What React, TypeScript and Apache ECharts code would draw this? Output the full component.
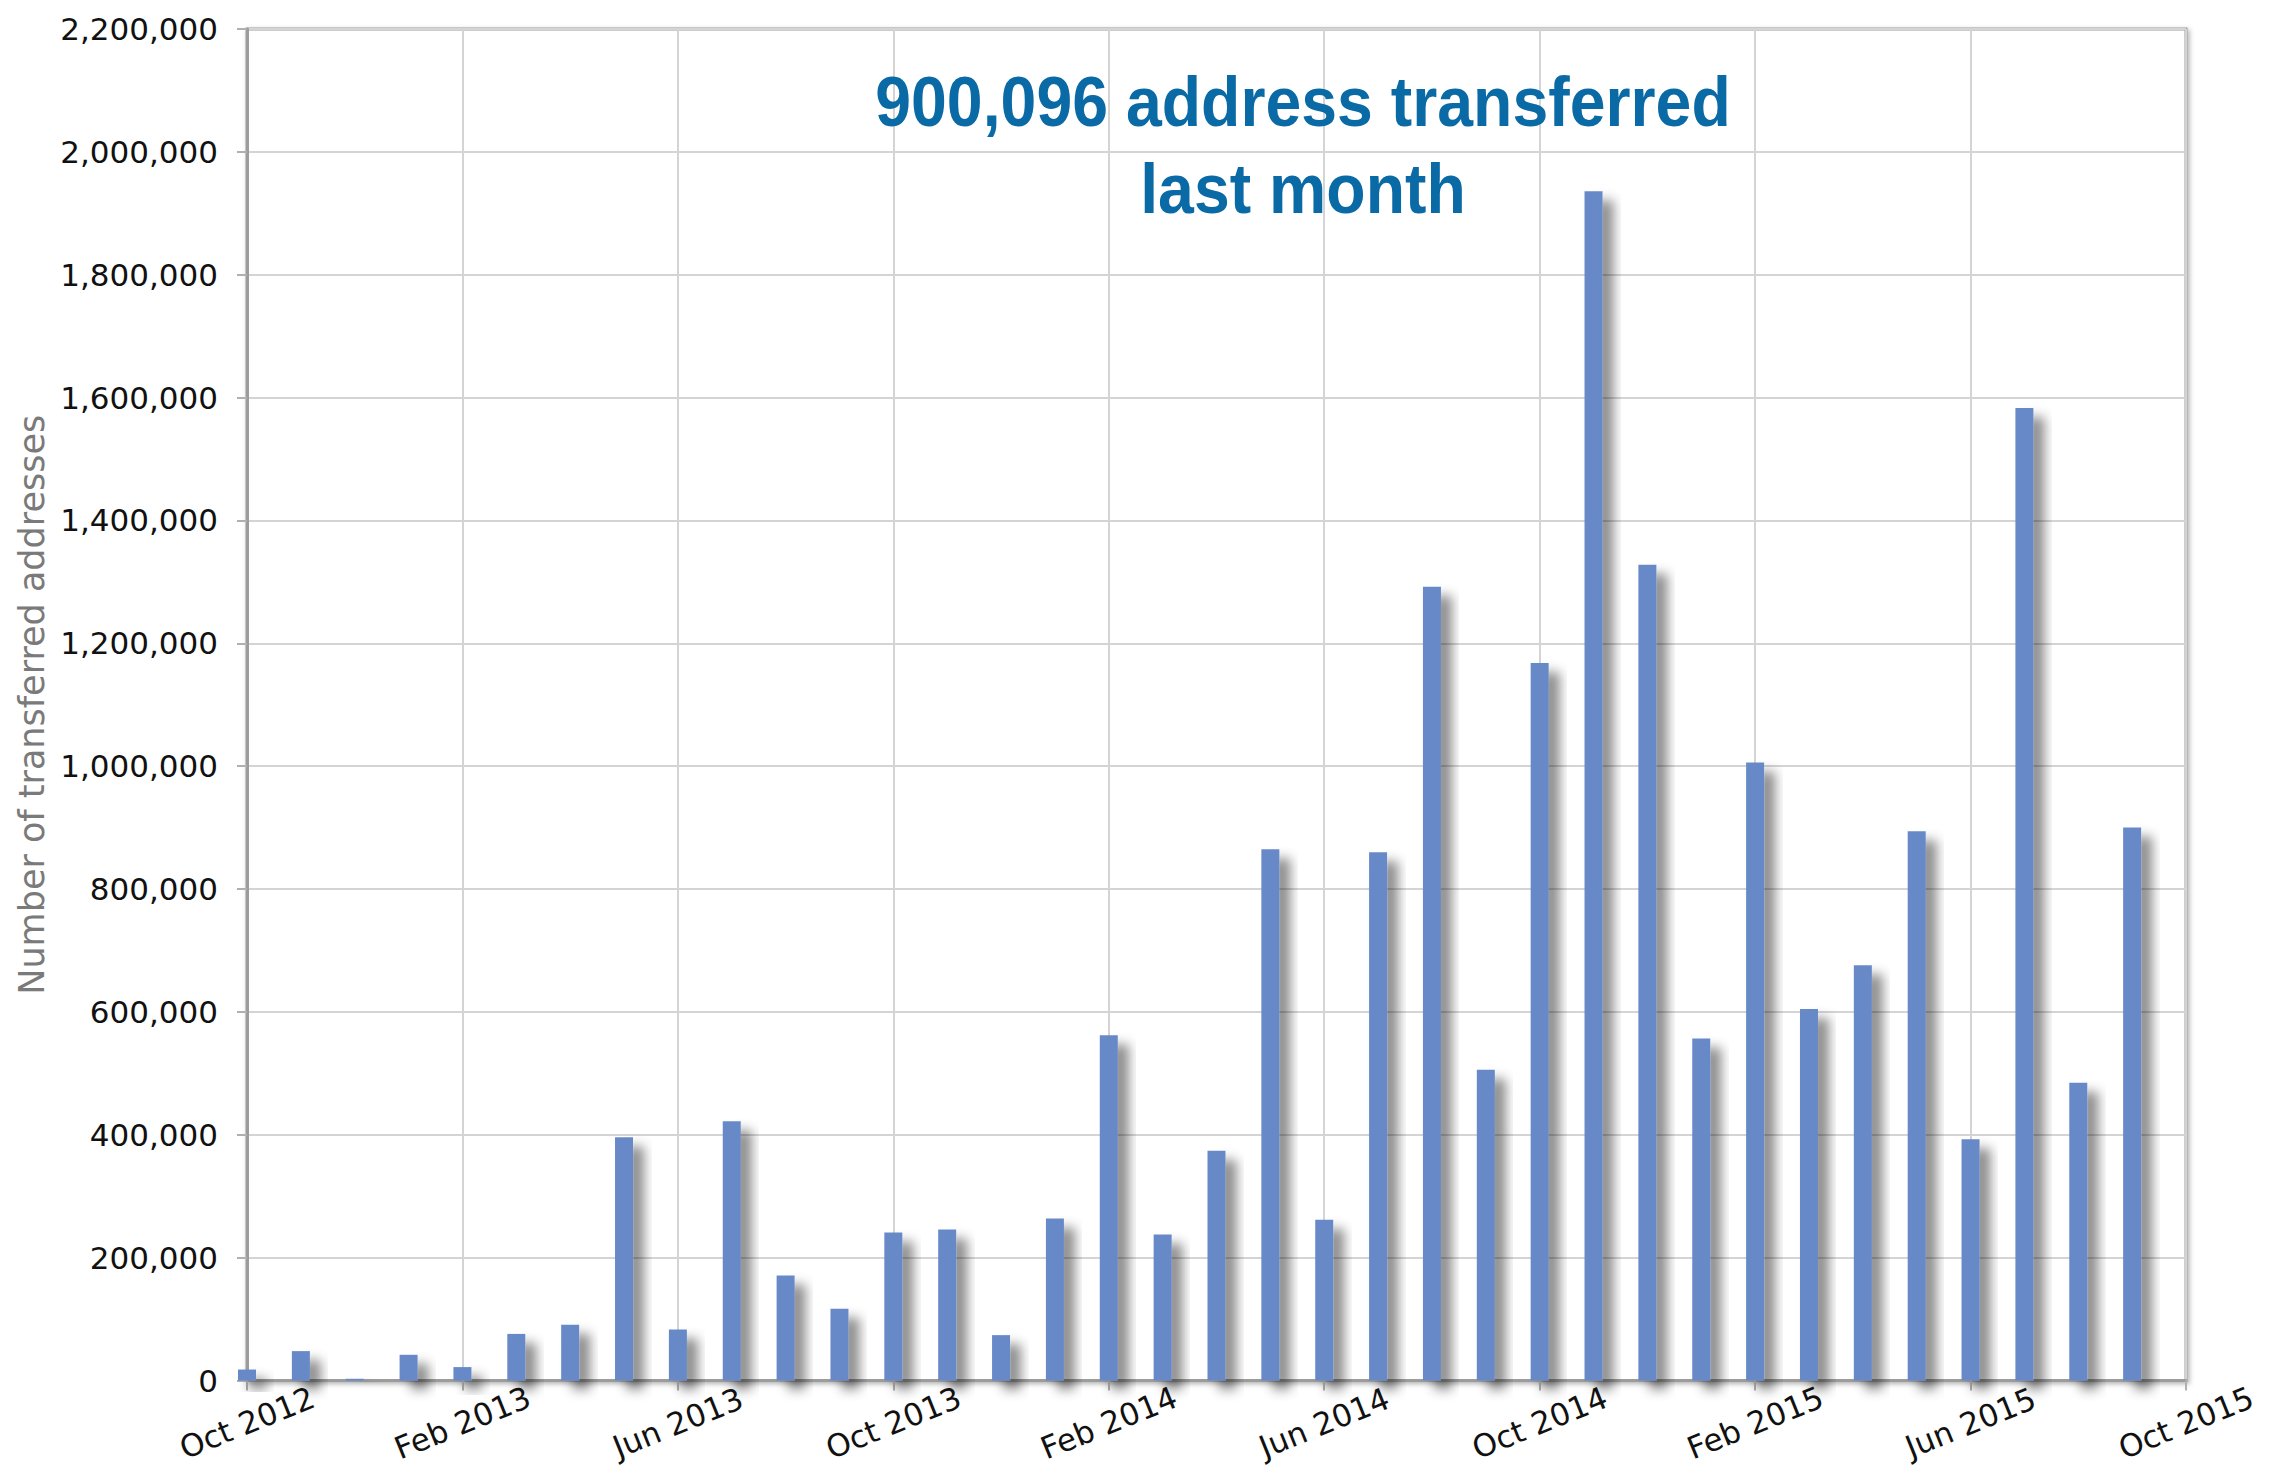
import React, { useEffect, useRef } from "react";
import * as echarts from "echarts";

// Monthly categories (Oct 2012 .. Sep 2015)
const months: string[] = [
  "Oct 2012", "Nov 2012", "Dec 2012", "Jan 2013", "Feb 2013", "Mar 2013",
  "Apr 2013", "May 2013", "Jun 2013", "Jul 2013", "Aug 2013", "Sep 2013",
  "Oct 2013", "Nov 2013", "Dec 2013", "Jan 2014", "Feb 2014", "Mar 2014",
  "Apr 2014", "May 2014", "Jun 2014", "Jul 2014", "Aug 2014", "Sep 2014",
  "Oct 2014", "Nov 2014", "Dec 2014", "Jan 2015", "Feb 2015", "Mar 2015",
  "Apr 2015", "May 2015", "Jun 2015", "Jul 2015", "Aug 2015", "Sep 2015",
];

// Number of transferred addresses per month
const transferred: number[] = [
  18000, 48000, 3000, 42000, 22000, 76000,
  91000, 396000, 83000, 422000, 171000, 117000,
  241000, 246000, 74000, 264000, 562000, 238000,
  374000, 865000, 262000, 860000, 1292000, 506000,
  1168000, 1936000, 1328000, 557000, 1006000, 605000,
  676000, 894000, 393000, 1583000, 485000, 900096,
];

// X tick labels (every 4 months)
const xTickLabels: string[] = [
  "Oct 2012", "Feb 2013", "Jun 2013", "Oct 2013", "Feb 2014",
  "Jun 2014", "Oct 2014", "Feb 2015", "Jun 2015", "Oct 2015",
];

const annotationLines: string[] = ["900,096 address transferred", "last month"];
const yAxisTitle = "Number of transferred addresses";

export default function App() {
  const ref = useRef<HTMLDivElement>(null);

  useEffect(() => {
    if (!ref.current) return;
    const chart = echarts.init(ref.current, undefined, { renderer: "svg" });
    const labelFont = "DejaVu Sans";
    chart.setOption({
      animation: false,
      backgroundColor: "#ffffff",
      grid: {
        left: 247,
        right: 96,
        top: 29,
        bottom: 84,
        show: true,
        backgroundColor: "#ffffff",
        borderColor: "#9c9c9c",
        borderWidth: 3,
        shadowColor: "rgba(0,0,0,0.3)",
        shadowBlur: 5,
        shadowOffsetX: 2,
        shadowOffsetY: 2,
      },
      xAxis: {
        type: "value",
        min: 0,
        max: months.length,
        interval: 4,
        axisLine: { show: true, lineStyle: { color: "#9c9c9c", width: 3 } },
        axisTick: { show: true, length: 10, lineStyle: { color: "#b0b0b0", width: 2 } },
        splitLine: { show: true, lineStyle: { color: "#d4d4d4", width: 2 } },
        axisLabel: {
          rotate: 22,
          align: "center",
          verticalAlign: "middle",
          margin: 42,
          color: "#111111",
          fontFamily: labelFont,
          fontSize: 31,
          showMaxLabel: true,
          showMinLabel: true,
          formatter: (v: number) => xTickLabels[Math.round(v / 4)] ?? "",
        },
      },
      yAxis: {
        type: "value",
        min: 0,
        max: 2200000,
        interval: 200000,
        name: yAxisTitle,
        nameLocation: "middle",
        nameGap: 192,
        nameTextStyle: { color: "#7a7a7a", fontFamily: labelFont, fontSize: 35 },
        axisLine: { show: true, lineStyle: { color: "#9c9c9c", width: 3 } },
        axisTick: { show: true, length: 10, lineStyle: { color: "#b0b0b0", width: 2 } },
        splitLine: { show: true, lineStyle: { color: "#d4d4d4", width: 2 } },
        axisLabel: {
          margin: 29,
          color: "#111111",
          fontFamily: labelFont,
          fontSize: 31,
          formatter: (v: number) => v.toLocaleString("en-US"),
        },
      },
      series: [
        {
          type: "bar",
          data: transferred.map((v, i) => [i, v]),
          barWidth: 18,
          clip: true,
          itemStyle: {
            color: "#6889c8",
            shadowColor: "rgba(0,0,0,0.45)",
            shadowBlur: 12,
            shadowOffsetX: 11,
            shadowOffsetY: 9,
          },
        },
      ],
      graphic: [
        {
          type: "text",
          x: 1303,
          y: 58,
          scaleX: 0.92,
          z: 100,
          style: {
            text: annotationLines.join("\n"),
            fill: "#0a6aa6",
            fontFamily: "Liberation Sans",
            fontWeight: "bold",
            fontSize: 70,
            lineHeight: 87,
            align: "center",
            verticalAlign: "top",
          },
        },
      ],
    });
    return () => chart.dispose();
  }, []);

  return (
    <div
      ref={ref}
      style={{ position: "fixed", left: 0, top: 0, width: 2282, height: 1465 }}
    />
  );
}
